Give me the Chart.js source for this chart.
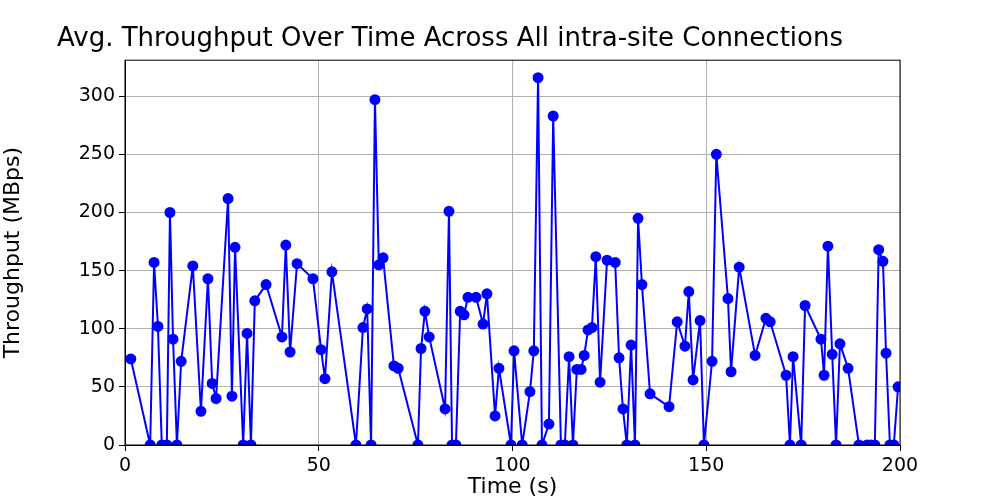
<!DOCTYPE html>
<html>
<head>
<meta charset="utf-8">
<script src="https://cdn.jsdelivr.net/npm/chart.js@4"></script>
<style>
  body { margin: 0; background: #fff; }
  #wrap { width: 1000px; height: 500px; }
</style>
</head>
<body>
<div id="wrap"><canvas id="chart" width="1000" height="500"></canvas></div>
<script>
const times = [1.5, 6.5, 7.5, 8.5, 9.5, 10.8, 11.6, 12.4, 13.4, 14.5, 17.5, 19.6, 21.4, 22.5, 23.5,
    26.6, 27.6, 28.4, 30.5, 31.5, 32.5, 33.5, 36.4, 40.5, 41.5, 42.6, 44.4, 48.5, 50.6, 51.6, 53.4,
    59.6, 61.4, 62.5, 63.5, 64.5, 65.5, 66.6, 69.4, 70.5, 75.6, 76.4, 77.4, 78.5, 82.6, 83.6, 84.4,
    85.4, 86.5, 87.5, 88.5, 90.6, 92.4, 93.4, 95.5, 96.5, 99.6, 100.4, 102.5, 104.5, 105.5, 106.6,
    107.6, 109.4, 110.5, 112.5, 113.5, 114.6, 115.6, 116.6, 117.7, 118.5, 119.5, 120.5, 121.5, 122.6,
    124.4, 126.5, 127.5, 128.5, 129.5, 130.6, 131.6, 132.4, 133.4, 135.5, 140.4, 142.5, 144.5, 145.5,
    146.6, 148.4, 149.4, 151.5, 152.6, 155.6, 156.4, 158.5, 162.6, 165.4, 166.5, 170.6, 171.6, 172.4,
    174.5, 175.5, 179.6, 180.4, 181.4, 182.5, 183.5, 184.5, 186.6, 189.4, 191.5, 192.5, 193.5, 194.5,
    195.6, 196.4, 197.4, 198.4, 199.5];
const throughput = [74, 0, 157, 102, 0, 0, 200, 91, 0, 72, 154, 29, 143, 53, 40,
    212, 42, 170, 0, 96, 0, 124, 138, 93, 172, 80, 156, 143, 82, 57, 149,
    0, 101, 117, 0, 297, 155, 161, 68, 66, 0, 83, 115, 93, 31, 201, 0,
    0, 115, 112, 127, 127, 104, 130, 25, 66, 0, 81, 0, 46, 81, 316,
    0, 18, 283, 0, 0, 76, 0, 65, 65, 77, 99, 101, 162, 54,
    159, 157, 75, 31, 0, 86, 0, 195, 138, 44, 33, 106, 85, 132,
    56, 107, 0, 72, 250, 126, 63, 153, 77, 109, 106, 60, 0, 76,
    0, 120, 91, 60, 171, 78, 0, 87, 66, 0, 0, 0, 0, 168,
    158, 79, 0, 0, 50];
const xTicks = [0, 50, 100, 150, 200];
const yTicks = [0, 50, 100, 150, 200, 250, 300];

const points = times.map((t, i) => ({ x: t, y: throughput[i] }));
const font = 'DejaVu Sans';

new Chart(document.getElementById('chart'), {
    type: 'line',
    data: {
        datasets: [{
            data: points,
            borderColor: '#0000ff',
            backgroundColor: '#0000ff',
            borderWidth: 2,
            pointRadius: 4.5,
            pointHoverRadius: 4.5,
            tension: 0
        }]
    },
    options: {
        responsive: false,
        animation: false,
        layout: { padding: { left: 0, right: 100, top: 0, bottom: 0 } },
        plugins: {
            legend: { display: false },
            tooltip: { enabled: false },
            title: {
                display: true,
                text: 'Avg. Throughput Over Time Across All intra-site Connections',
                color: '#000',
                font: { family: font, size: 26, weight: 'normal' },
                padding: { top: 24, bottom: 5 }
            }
        },
        scales: {
            x: {
                type: 'linear',
                min: 0, max: 200,
                afterBuildTicks: s => { s.ticks = xTicks.map(v => ({ value: v })); },
                afterFit: s => { s.height = 55; },
                ticks: { color: '#000', font: { family: font, size: 19 }, padding: 4 },
                grid: { color: '#b0b0b0', tickColor: '#000', tickLength: 6 },
                border: { color: '#000', width: 1 },
                title: { display: true, text: 'Time (s)', color: '#000', font: { family: font, size: 22 }, padding: 0 }
            },
            y: {
                min: 0, max: 331,
                afterBuildTicks: s => { s.ticks = yTicks.map(v => ({ value: v })); },
                afterFit: s => { s.width = 125; },
                ticks: { color: '#000', font: { family: font, size: 19 }, padding: 4 },
                grid: { color: '#b0b0b0', tickColor: '#000', tickLength: 6 },
                border: { color: '#000', width: 1 },
                title: { display: true, text: 'Throughput (MBps)', color: '#000', font: { family: font, size: 22 }, padding: 0 }
            }
        }
    },
    plugins: [{
        id: 'frame',
        afterDraw(chart) {
            const { ctx, chartArea: a } = chart;
            ctx.save();
            ctx.strokeStyle = '#000';
            ctx.lineWidth = 1;
            ctx.strokeRect(a.left, a.top, a.right - a.left, a.bottom - a.top);
            ctx.restore();
        }
    }]
});
</script>
</body>
</html>
